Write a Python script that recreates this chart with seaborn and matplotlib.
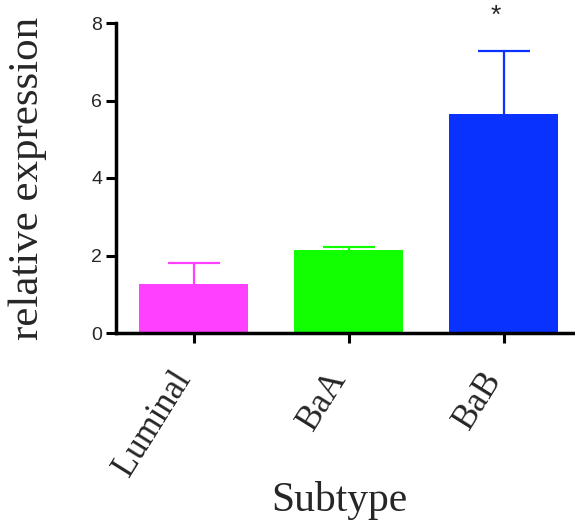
import matplotlib
matplotlib.use("Agg")
import matplotlib.pyplot as plt
import matplotlib.transforms as mtrans
import seaborn as sns
import numpy as np
import pandas as pd

categories = ["Luminal", "BaA", "BaB"]
means = [1.26, 2.13, 5.65]
errors = [0.54, 0.08, 1.62]
colors = ["#FF40FF", "#11FF00", "#0A32FF"]
annotations = ["", "", "*"]

sns.set_theme(style="ticks")
plt.rcParams["font.family"] = ["Liberation Sans", "DejaVu Sans"]

df = pd.DataFrame({"Subtype": categories, "value": means})

fig = plt.figure(figsize=(5.75, 5.3), dpi=100)
ax = fig.add_axes([116/575, 1 - 333/530, 1 - 116/575, (333 - 23)/530])

sns.barplot(data=df, x="Subtype", y="value", hue="Subtype", palette=colors,
            order=categories, hue_order=categories, width=0.7, legend=False,
            errorbar=None, saturation=1, ax=ax, linewidth=0, zorder=2)

x = np.arange(len(categories))
for xi, m, e, c in zip(x, means, errors, colors):
    cont = ax.errorbar([xi], [m], yerr=[[0], [e]], fmt="none", ecolor=c,
                       elinewidth=1.6, capsize=19, capthick=1.6, zorder=1)
    caps = cont[1]
    if len(caps) == 2:
        caps[0].remove()

for xi, m, e, a in zip(x, means, errors, annotations):
    if a:
        ax.text(xi - 0.05, 8.18, a, ha="center", va="center", fontsize=19,
                family=["Liberation Sans", "DejaVu Sans"], clip_on=False)

ax.set_ylim(0, 8)
ax.set_xlim(-0.5, 2.46)
ax.set_yticks([0, 2, 4, 6, 8])
ax.tick_params(axis="both", width=2.2, length=7, color="black", direction="out")
ax.tick_params(axis="y", labelsize=14, pad=3)
for s in ["left", "bottom"]:
    ax.spines[s].set_linewidth(2.5)
    ax.spines[s].set_color("black")
sns.despine(ax=ax)

ax.set_xticks(x)
ax.set_xticklabels(categories, rotation=58, ha="right", rotation_mode="anchor",
                   fontsize=25, family="Liberation Serif")
ax.tick_params(axis="x", pad=8)
offset = mtrans.ScaledTranslation(-23/100, -11/100, fig.dpi_scale_trans)
for lbl in ax.get_xticklabels():
    lbl.set_transform(lbl.get_transform() + offset)

ax.set_xlabel("Subtype", fontsize=30, family="Liberation Serif")
ax.xaxis.set_label_coords(0.486, -0.477)
ax.set_ylabel("relative expression", fontsize=31, family="Liberation Serif")
ax.yaxis.set_label_coords(-0.15, 0.5)

fig.savefig("out.png", dpi=100)
